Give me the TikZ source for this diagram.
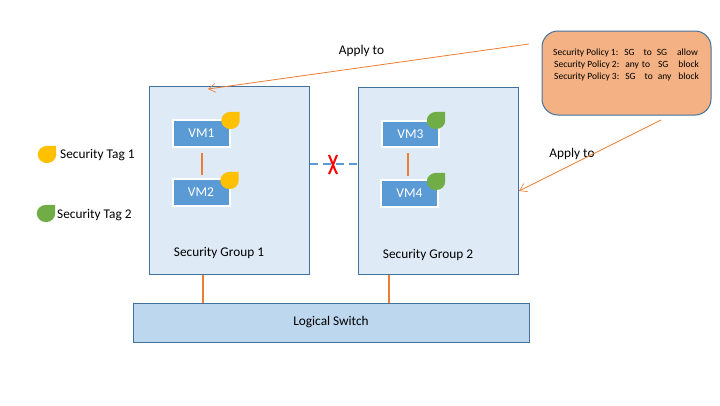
\documentclass[tikz,border=0pt]{standalone}
\usepackage{fontspec}
\setmainfont{Carlito}
\usetikzlibrary{arrows.meta}
\definecolor{sgfill}{HTML}{DEEAF6}
\definecolor{sgline}{HTML}{41719C}
\definecolor{vmfill}{HTML}{5B9BD5}
\definecolor{lsfill}{HTML}{BDD7EE}
\definecolor{orangeline}{HTML}{ED7D31}
\definecolor{policyfill}{HTML}{F4B183}
\definecolor{tagyellow}{HTML}{FFC000}
\definecolor{taggreen}{HTML}{70AD47}
\tikzset{
  group box/.style={draw=sgline,line width=1pt,fill=sgfill,minimum width=160pt,minimum height=188pt,inner sep=0pt},
  vm box/.style={draw=white,line width=2pt,fill=vmfill,text=white,minimum width=57pt,minimum height=26.5pt,inner sep=0pt,font=\fontsize{13.5}{15}\selectfont},
  link/.style={draw=orangeline,line width=2pt},
  pointer/.style={draw=orangeline,line width=0.8pt,-{Straight Barb[length=7pt,width=9pt,line width=0.6pt]}},
  label text/.style={inner sep=0pt,font=\fontsize{13.3}{15}\selectfont},
  tag/.pic={\fill[pic actions] (9.2,-8.6) -- (0,-8.6) .. controls (-5.08,-8.6) and (-9.2,-4.75) .. (-9.2,0) .. controls (-9.2,4.75) and (-5.08,8.6) .. (0,8.6) .. controls (5.08,8.6) and (9.2,4.75) .. (9.2,0) -- cycle;}
}
\begin{document}
\begin{tikzpicture}[x=1pt,y=-1pt]
\useasboundingbox (0,0) rectangle (720,405);
\fill[white] (0,0) rectangle (720,405);

\node[group box] (sg1) at (229.5,180) {};
\node[group box,minimum height=187pt] (sg2) at (438,180.5) {};
\node[draw=sgline,line width=1pt,fill=lsfill,minimum width=396pt,minimum height=39pt,inner sep=0pt,label text] (ls) at (331,322.5) {\raisebox{-1.5pt}{Logical Switch}};

\node[vm box] (vm1) at (201.5,133.5) {\raisebox{-2pt}{VM1}};
\node[vm box] (vm2) at (201,192.5) {\raisebox{-2pt}{VM2}};
\node[vm box] (vm3) at (410.5,134) {\raisebox{-2pt}{VM3}};
\node[vm box] (vm4) at (409.5,193.5) {\raisebox{-2pt}{VM4}};

\path pic[fill=tagyellow] at (230.5,120.5) {tag};
\path pic[fill=tagyellow] at (229.5,180.5) {tag};
\path pic[fill=taggreen] at (436,120.5) {tag};
\path pic[fill=taggreen] at (436,181.5) {tag};
\path pic[fill=tagyellow] at (47,154.5) {tag};
\path pic[fill=taggreen] at (46,213.5) {tag};

\node[label text,anchor=west] (t1) at (60,155) {Security Tag 1};
\node[label text,anchor=west] (t2) at (57,215) {Security Tag 2};
\node[label text] (g1) at (219,252.5) {Security Group 1};
\node[label text] (g2) at (428,254.5) {Security Group 2};
\node[label text] (a1) at (361.5,50.5) {Apply to};
\node[label text] (a2) at (572,154) {Apply to};

\node[draw=sgline,line width=1pt,fill=policyfill,rounded corners=16pt,minimum width=169pt,minimum height=84pt,inner sep=0pt] (policy) at (626.5,73) {};
\node[inner sep=0pt,anchor=north west,align=left,font=\fontsize{9.5}{12}\selectfont] (ptext) at (553,49) {%
Security Policy 1:\hspace{6pt}SG\hspace{9pt}to\hspace{5pt}SG\hspace{10pt}allow\\
\hspace{1pt}Security Policy 2:\hspace{6pt}any\hspace{3pt}to\hspace{8pt}SG\hspace{10pt}block\\
\hspace{1pt}Security Policy 3:\hspace{6pt}SG\hspace{9pt}to\hspace{5pt}any\hspace{7pt}block};

\draw[link] ([yshift=-5pt]vm1.south) -- ([yshift=3pt]vm1.south |- vm2.north);
\draw[link] ([xshift=-2.5pt,yshift=-5pt]vm3.south) -- ([xshift=-2.5pt,yshift=3pt]vm3.south |- vm4.north);
\draw[link] ([xshift=-26.5pt]sg1.south) -- ([xshift=-26.5pt]sg1.south |- ls.north);
\draw[link] ([xshift=-49pt]sg2.south) -- ([xshift=-49pt]sg2.south |- ls.north);

\draw[draw=vmfill,line width=2pt,dash pattern=on 8pt off 5pt] ([yshift=16pt]sg1.east) -- ([yshift=16pt]sg1.east -| sg2.west);
\draw[red,line width=2pt] (329,155) .. controls (332,162) and (334,168) .. (337,174);
\draw[red,line width=2pt] (337,155) .. controls (334,162) and (332,168) .. (329,174);

\coordinate (pstart1) at (529,44);
\coordinate (pend1) at (208,89);
\coordinate (pstart2) at (661,120);
\coordinate (pend2) at (519,191);
\draw[pointer] (pstart1) -- (pend1);
\draw[pointer] (pstart2) -- (pend2);
\end{tikzpicture}
\end{document}
